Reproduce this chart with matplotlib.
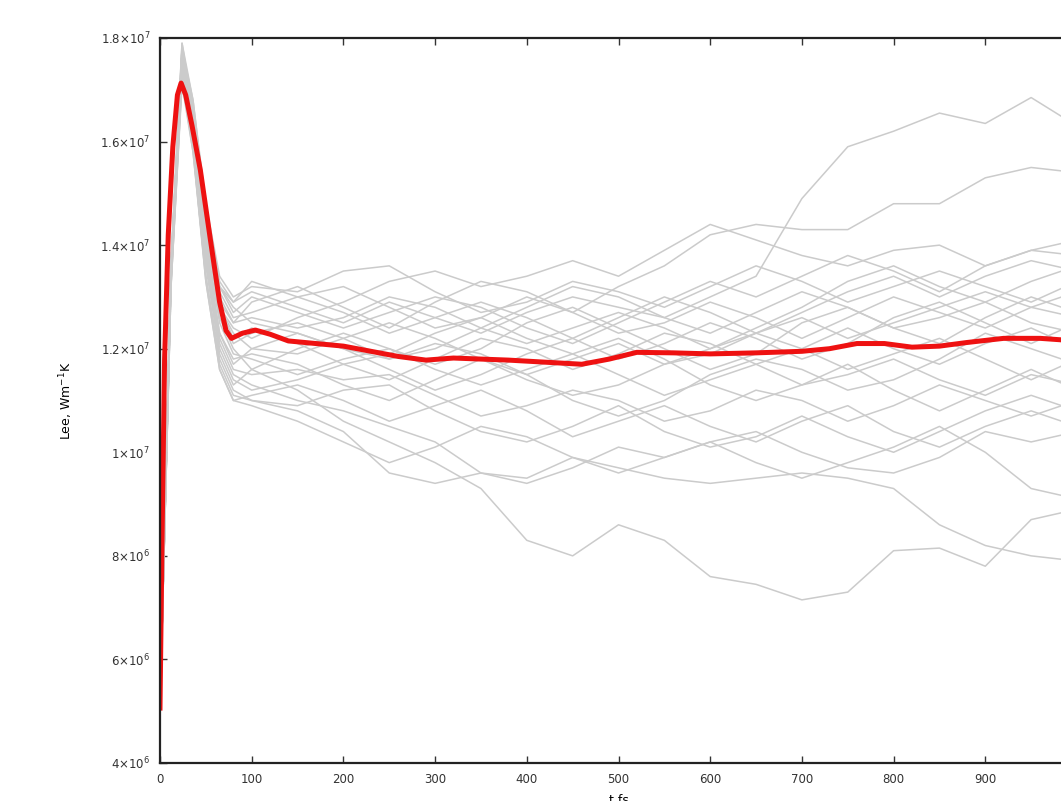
import numpy as np
import matplotlib.pyplot as plt

# time grid shared by the individual runs (fs)
t_runs = [0, 12, 24, 36, 50, 65, 80, 100, 150, 200, 250, 300, 350, 400, 450,
          500, 550, 600, 650, 700, 750, 800, 850, 900, 950, 1000]

# individual runs, Lee in units of 1e6 W m^-1 K
run01 = [5.0, 13.5, 17.6, 16.6, 14.6, 13.2, 12.9, 13.1, 12.8, 12.5, 12.9, 12.6, 12.3, 12.7, 13.0,
         12.8, 12.6, 13.0, 13.4, 14.9, 15.9, 16.2, 16.55, 16.35, 16.85, 16.3]
run02 = [5.0, 13.4, 17.5, 16.4, 14.4, 13.0, 12.5, 12.9, 13.2, 12.8, 12.4, 12.9, 13.3, 13.1, 12.7,
         13.2, 13.6, 14.2, 14.4, 14.3, 14.3, 14.8, 14.8, 15.3, 15.5, 15.4]
run03 = [5.0, 13.6, 17.8, 16.5, 14.0, 12.6, 12.0, 11.6, 11.2, 10.6, 10.2, 9.8, 9.3, 8.3, 8.0,
         8.6, 8.3, 7.6, 7.45, 7.15, 7.3, 8.1, 8.15, 7.8, 8.7, 8.9]
run04 = [5.0, 13.3, 17.3, 15.9, 13.4, 11.7, 11.1, 11.0, 10.8, 10.4, 9.6, 9.4, 9.6, 9.5, 9.9,
         9.7, 9.5, 9.4, 9.5, 9.6, 9.5, 9.3, 8.6, 8.2, 8.0, 7.9]
run05 = [5.0, 13.5, 17.4, 16.1, 13.8, 12.1, 11.5, 11.3, 11.0, 10.8, 10.5, 10.2, 9.6, 9.4, 9.7,
         10.1, 9.9, 10.2, 10.4, 10.0, 9.7, 9.6, 9.9, 10.4, 10.2, 10.4]
run06 = [5.0, 13.2, 17.2, 15.8, 13.3, 11.6, 11.0, 11.1, 11.3, 11.0, 10.6, 10.9, 11.2, 10.8, 10.3,
         10.6, 10.9, 10.5, 10.2, 10.6, 10.9, 10.4, 10.1, 10.5, 10.8, 10.5]
run07 = [5.0, 13.6, 17.7, 16.3, 14.0, 12.2, 11.6, 11.5, 11.6, 11.4, 11.5, 11.1, 10.7, 10.9, 11.2,
         11.0, 10.6, 10.8, 11.2, 11.0, 10.6, 10.9, 11.3, 11.0, 10.7, 11.0]
run08 = [5.0, 13.4, 17.5, 16.2, 14.1, 12.5, 11.9, 11.8, 11.5, 11.8, 12.0, 11.6, 11.3, 11.6, 11.9,
         11.5, 11.1, 11.4, 11.7, 11.3, 11.5, 11.8, 11.4, 11.1, 11.5, 11.3]
run09 = [5.0, 13.5, 17.9, 16.6, 14.3, 12.8, 12.2, 12.4, 12.1, 11.7, 11.4, 11.8, 12.2, 12.0, 11.6,
         11.9, 12.3, 12.1, 11.7, 12.0, 12.4, 12.0, 11.7, 12.1, 12.4, 12.0]
run10 = [5.0, 13.7, 17.6, 16.7, 14.6, 13.1, 12.6, 12.7, 13.0, 13.2, 12.8, 12.4, 12.6, 13.0, 12.7,
         12.3, 12.5, 12.9, 12.6, 12.2, 12.6, 13.0, 12.7, 12.4, 12.8, 13.1]
run11 = [5.0, 13.5, 17.8, 16.8, 14.8, 13.4, 13.0, 13.2, 13.1, 13.5, 13.6, 13.1, 12.7, 12.9, 13.3,
         13.1, 12.8, 13.2, 13.6, 13.3, 12.9, 13.2, 13.5, 13.2, 12.9, 13.3]
run12 = [5.0, 13.4, 17.4, 16.3, 14.2, 12.8, 12.4, 12.2, 12.6, 12.9, 13.3, 13.5, 13.2, 13.4, 13.7,
         13.4, 13.9, 14.4, 14.1, 13.8, 13.6, 13.9, 14.0, 13.6, 13.9, 14.1]
run13 = [5.0, 13.3, 17.3, 16.0, 13.6, 11.9, 11.3, 11.6, 12.0, 12.3, 12.0, 11.7, 12.0, 12.5, 12.8,
         12.4, 12.0, 11.6, 11.9, 12.5, 12.8, 12.4, 12.1, 12.6, 13.0, 12.7]
run14 = [5.0, 13.6, 17.7, 16.6, 14.5, 13.2, 12.8, 12.5, 12.3, 12.0, 11.6, 11.2, 11.5, 11.9, 12.2,
         12.6, 13.0, 12.7, 12.3, 12.7, 13.1, 13.4, 13.0, 13.4, 13.7, 13.5]
run15 = [5.0, 13.5, 17.5, 16.2, 13.9, 12.3, 11.8, 11.9, 11.7, 11.3, 11.0, 11.4, 11.8, 11.5, 11.0,
         10.7, 11.0, 11.5, 11.8, 11.6, 11.2, 11.4, 11.8, 12.3, 12.0, 11.7]
run16 = [5.0, 13.4, 17.6, 16.4, 14.2, 12.8, 12.3, 12.0, 11.9, 12.2, 12.5, 12.2, 11.8, 11.4, 11.1,
         11.3, 11.7, 12.0, 12.4, 12.8, 13.3, 13.6, 13.2, 12.9, 13.3, 13.6]
run17 = [5.0, 13.2, 17.1, 15.8, 13.4, 11.8, 11.2, 11.0, 10.9, 11.2, 11.3, 10.8, 10.4, 10.2, 10.5,
         10.9, 10.4, 10.1, 10.3, 10.7, 10.3, 10.0, 10.4, 10.8, 11.1, 10.8]
run18 = [5.0, 13.6, 17.8, 16.7, 14.7, 13.2, 12.7, 13.0, 12.7, 12.4, 12.7, 13.0, 12.8, 12.4, 12.1,
         12.5, 12.9, 13.3, 13.0, 13.4, 13.8, 13.5, 13.1, 13.6, 13.9, 13.8]
run19 = [5.0, 13.3, 17.4, 16.0, 13.7, 12.0, 11.4, 11.2, 11.4, 11.7, 11.9, 12.3, 12.6, 12.2, 11.9,
         12.2, 11.8, 11.3, 11.0, 11.3, 11.7, 11.2, 10.8, 11.2, 11.6, 11.2]
run20 = [5.0, 13.5, 17.6, 16.4, 14.3, 12.7, 12.1, 12.3, 12.5, 12.2, 11.8, 12.0, 12.4, 12.8, 13.2,
         13.0, 12.6, 12.3, 12.7, 13.1, 12.8, 12.4, 12.6, 12.9, 12.5, 12.3]
run21 = [5.0, 13.7, 17.9, 16.8, 14.7, 13.3, 12.9, 13.3, 13.0, 12.7, 12.3, 12.6, 12.9, 12.6, 12.2,
         11.8, 12.1, 12.5, 12.2, 11.8, 12.1, 12.6, 12.9, 12.5, 12.1, 12.5]
run22 = [5.0, 13.2, 17.2, 15.9, 13.3, 11.6, 11.0, 10.9, 10.6, 10.2, 9.8, 10.1, 10.5, 10.3, 9.9,
         9.6, 9.9, 10.2, 9.8, 9.5, 9.8, 10.1, 10.5, 10.0, 9.3, 9.1]
run23 = [5.0, 13.4, 17.5, 16.2, 14.0, 12.3, 11.7, 12.0, 12.3, 12.0, 11.8, 12.1, 11.9, 11.5, 11.8,
         12.1, 11.7, 11.9, 12.3, 12.0, 11.6, 11.9, 12.2, 11.8, 11.4, 11.8]
run24 = [5.0, 13.5, 17.7, 16.5, 14.4, 12.9, 12.5, 12.6, 12.4, 12.6, 13.0, 12.8, 12.4, 12.1, 12.4,
         12.7, 12.4, 12.0, 12.3, 12.6, 12.2, 12.5, 12.8, 13.1, 12.8, 12.6]

runs = [run01, run02, run03, run04, run05, run06, run07, run08, run09, run10, run11, run12,
        run13, run14, run15, run16, run17, run18, run19, run20, run21, run22, run23, run24]

# ensemble average (red)
t_mean = [0, 2, 5, 9, 14, 19, 23, 28, 35, 44, 55, 65, 72, 78, 90, 104, 120, 140, 170, 200,
          230, 260, 290, 320, 350, 380, 420, 460, 490, 520, 560, 600, 650, 700, 730, 760,
          790, 820, 850, 880, 920, 960, 1000]
lee_mean = [5.06, 8.0, 11.8, 14.2, 15.9, 16.9, 17.13, 16.9, 16.3, 15.45, 14.1, 12.9, 12.35, 12.2,
            12.3, 12.36, 12.28, 12.15, 12.1, 12.05, 11.95, 11.85, 11.78, 11.82, 11.8, 11.78,
            11.74, 11.7, 11.8, 11.93, 11.92, 11.9, 11.92, 11.95, 12.0, 12.1, 12.1, 12.03,
            12.05, 12.12, 12.2, 12.2, 12.15]

y_ticks = [4e6, 6e6, 8e6, 1e7, 1.2e7, 1.4e7, 1.6e7, 1.8e7]
y_labels = [r'$4{\times}10^{6}$', r'$6{\times}10^{6}$', r'$8{\times}10^{6}$', r'$1{\times}10^{7}$',
            r'$1.2{\times}10^{7}$', r'$1.4{\times}10^{7}$', r'$1.6{\times}10^{7}$', r'$1.8{\times}10^{7}$']
x_ticks = [0, 100, 200, 300, 400, 500, 600, 700, 800, 900, 1000]

fig = plt.figure(figsize=(10.61, 8.01), dpi=100)
# axes run past the right edge, as in the cropped original
ax = fig.add_axes([160 / 1061, 1 - 763 / 801, 917 / 1061, 725 / 801])

for r in runs:
    ax.plot(t_runs, np.array(r) * 1e6, color='#cbcbcb', lw=1.1, solid_joinstyle='round')

ax.plot(t_mean, np.array(lee_mean) * 1e6, color='#ee1111', lw=3.6, solid_joinstyle='round')

ax.set_xlim(0, 1000)
ax.set_ylim(4e6, 1.8e7)
ax.set_xticks(x_ticks)
ax.set_yticks(y_ticks)
ax.set_yticklabels(y_labels)
ax.tick_params(direction='in', top=True, right=True, length=5, width=1,
               labelsize=8.5, colors='#333333', pad=7)
for s in ax.spines.values():
    s.set_linewidth(1.6)
    s.set_color('#222222')

ax.set_xlabel('t fs', fontsize=9, labelpad=6)
ax.set_ylabel('Lee, Wm$^{-1}$K', fontsize=9, labelpad=18)

fig.savefig('out.png', dpi=100)
